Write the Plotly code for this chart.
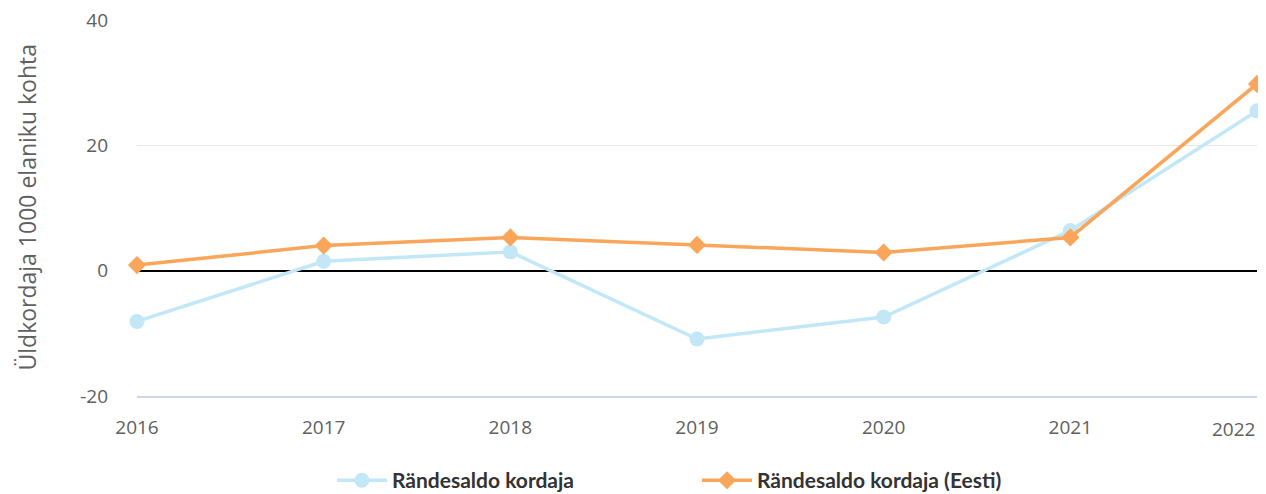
import plotly.graph_objects as go

years = ["2016", "2017", "2018", "2019", "2020", "2021", "2022"]
local_rate = [-8.1, 1.5, 3.0, -10.9, -7.4, 6.4, 25.5]
estonia_rate = [0.9, 4.0, 5.3, 4.1, 2.9, 5.3, 29.8]
series_names = ["Rändesaldo kordaja", "Rändesaldo kordaja (Eesti)"]
y_title = "Üldkordaja 1000 elaniku kohta"
y_ticks = [-20, 0, 20, 40]
y_ticktext = ["-20", "0", "20", "40"]

fig = go.Figure()
fig.add_trace(go.Scatter(
    x=years, y=local_rate, name=series_names[0], mode="lines+markers",
    line=dict(color="#c2e7f6", width=3.5), cliponaxis=False,
    marker=dict(symbol="circle", size=15, color="#c2e7f6"),
))
fig.add_trace(go.Scatter(
    x=years, y=estonia_rate, name=series_names[1], mode="lines+markers",
    line=dict(color="#f9a65a", width=3.5), cliponaxis=False,
    marker=dict(symbol="diamond", size=14, color="#f9a65a"),
))

tick_color = "#606060"
fig.update_layout(
    width=1258, height=486,
    margin=dict(l=129, r=9, t=11, b=98, autoexpand=False),
    plot_bgcolor="white", paper_bgcolor="white",
    font=dict(family="Open Sans", size=19, color=tick_color),
    showlegend=True,
    legend=dict(orientation="h", x=0.5, xanchor="center", y=-0.17, yanchor="top",
                font=dict(family="Lato", size=21, color="#333333", weight="bold"),
                itemwidth=50, entrywidth=300),
    xaxis=dict(type="category", showgrid=False, showline=True, linecolor="#ccd6eb",
               linewidth=2, ticks="", range=[0, len(years) - 1], zeroline=False,
               automargin=False,
               tickvals=years[:-1], ticktext=years[:-1],
               tickfont=dict(size=19, color=tick_color), ticklabelstandoff=13),
    yaxis=dict(range=[-20, 40.16], tickvals=y_ticks, ticktext=y_ticktext,
               showgrid=True, gridcolor="#e6e6e6",
               zeroline=True, zerolinecolor="#000000", zerolinewidth=2,
               automargin=False, ticklabeloverflow="allow",
               tickfont=dict(size=19, color=tick_color), ticklabelstandoff=28),
)
fig.add_annotation(text=years[-1], x=1, xref="paper", y=0, yref="paper",
                   xanchor="right", yanchor="top", yshift=-18, showarrow=False,
                   font=dict(size=19, color=tick_color))
fig.add_annotation(text=y_title, textangle=-90, x=-0.0991, xref="paper", y=0.5, yref="paper",
                   xanchor="center", yanchor="middle", showarrow=False,
                   font=dict(size=23, color=tick_color))
fig.write_html("out.html")
